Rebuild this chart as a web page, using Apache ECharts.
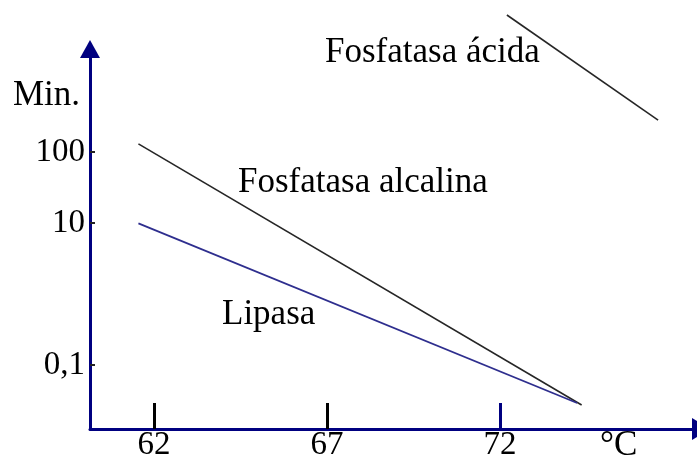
<!DOCTYPE html>
<html>
<head>
<meta charset="utf-8">
<title>Fosfatasas y lipasa</title>
<script src="https://cdn.jsdelivr.net/npm/echarts@6/dist/echarts.min.js"></script>
<style>
  html, body { margin: 0; padding: 0; background: #fff; }
  #main { width: 697px; height: 455px; }
</style>
</head>
<body>
<div id="main"></div>
<script>
// temperatura (°C) y tiempo (min)
const alcalinaTemp = [61.55, 74.36];
const alcalinaMin = [130, 0.0273];
const lipasaTemp = [61.55, 74.23];
const lipasaMin = [9.9, 0.0292];
const acidaTemp = [72.2, 76.57];
const acidaMin = [8510, 282];

const xTicks = [62, 67, 72];
const yTicks = [0.1, 10, 100];

const serif = 'Liberation Serif';
const navy = '#000080';

const toPairs = (xs, ys) => xs.map((x, i) => [x, ys[i]]);

const chartDom = document.getElementById('main');
const myChart = echarts.init(chartDom);
let option;

const lineSeries = (name, xs, ys, color, width) => ({
  name: name,
  type: 'line',
  data: toPairs(xs, ys),
  symbol: 'none',
  clip: false,
  lineStyle: { color: color, width: width }
});

const label = (text, left, top) => ({
  type: 'text',
  left: left,
  top: top,
  style: { text: text, font: '35px "Liberation Serif"', fill: '#000' }
});

option = {
  animation: false,
  grid: { left: 90, top: 49, width: 611, height: 380, outerBoundsMode: 'none' },
  xAxis: [
    {
      type: 'value',
      min: 60.15,
      max: 77.81,
      splitLine: { show: false },
      axisLine: {
        lineStyle: { color: navy, width: 3 },
        symbol: ['none', 'triangle'],
        symbolSize: [22, 18]
      },
      axisTick: {
        inside: true,
        length: 26,
        customValues: xTicks.slice(0, 2),
        lineStyle: { color: '#000', width: 3 }
      },
      axisLabel: {
        customValues: xTicks,
        margin: 0,
        fontFamily: serif,
        fontSize: 33,
        color: '#000'
      }
    },
    {
      // la marca de 72 va en azul
      type: 'value',
      min: 60.15,
      max: 77.81,
      position: 'bottom',
      splitLine: { show: false },
      axisLine: { show: false },
      axisTick: {
        inside: true,
        length: 26,
        customValues: xTicks.slice(2),
        lineStyle: { color: navy, width: 3 }
      },
      axisLabel: { show: false }
    }
  ],
  yAxis: {
    type: 'log',
    min: 0.01256,
    max: 2825,
    splitLine: { show: false },
    axisLine: {
      lineStyle: { color: navy, width: 3 },
      symbol: ['none', 'triangle'],
      symbolSize: [20, 18]
    },
    axisTick: {
      inside: true,
      length: 5,
      customValues: yTicks,
      lineStyle: { color: '#222', width: 2 }
    },
    axisLabel: {
      customValues: yTicks,
      margin: 5,
      padding: [0, 0, 10, 0],
      fontFamily: serif,
      fontSize: 33,
      color: '#000',
      formatter: (v) => String(v).replace('.', ',')
    }
  },
  graphic: [
    label('Min.', 13, 78),
    label('Fosfatasa ácida', 325, 35),
    label('Fosfatasa alcalina', 238, 165),
    label('Lipasa', 222, 297),
    label('°C', 600, 428)
  ],
  series: [
    lineSeries('Fosfatasa alcalina', alcalinaTemp, alcalinaMin, '#262626', 1.6),
    lineSeries('Lipasa', lipasaTemp, lipasaMin, '#2e2e8e', 1.8),
    lineSeries('Fosfatasa ácida', acidaTemp, acidaMin, '#262626', 1.6)
  ]
};

myChart.setOption(option);

window.addEventListener('resize', () => {
  myChart.resize();
});
</script>
</body>
</html>
